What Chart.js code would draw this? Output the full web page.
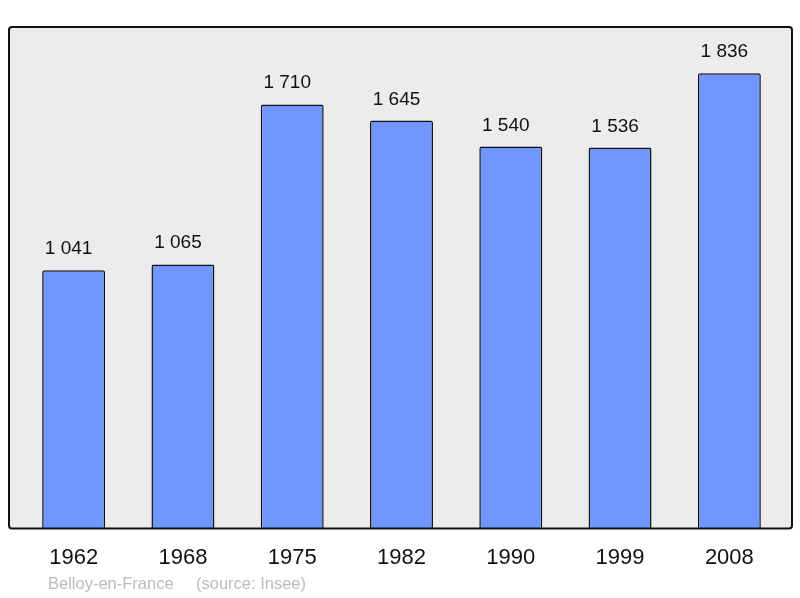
<!DOCTYPE html>
<html>
<head>
<meta charset="utf-8">
<script src="https://cdn.jsdelivr.net/npm/chart.js@4/dist/chart.umd.min.js"></script>
<style>
  html, body { margin: 0; padding: 0; background: #fff; }
  #wrap { width: 800px; height: 598px; }
</style>
</head>
<body>
<div id="wrap"><canvas id="popChart" width="800" height="598"></canvas></div>
<script>
// --- data ---
const years = ['1962', '1968', '1975', '1982', '1990', '1999', '2008'];
const population = [1041, 1065, 1710, 1645, 1540, 1536, 1836];
const townName = 'Belloy-en-France';
const sourceText = '(source: Insee)';

const fmt = (n) => String(n).replace(/\B(?=(\d{3})+(?!\d))/g, ' ');

// gray frame behind the bars, border on top
const framePlugin = {
    id: 'frame',
    beforeDatasetsDraw(chart) {
        const { ctx, chartArea: a } = chart;
        ctx.save();
        ctx.beginPath();
        ctx.roundRect(a.left - 10, a.top, a.right - a.left + 18, a.bottom - a.top, 3);
        ctx.fillStyle = '#ececec';
        ctx.fill();
        ctx.restore();
    },
    afterDatasetsDraw(chart) {
        const { ctx, chartArea: a } = chart;
        ctx.save();
        ctx.beginPath();
        ctx.roundRect(a.left - 10, a.top, a.right - a.left + 18, a.bottom - a.top, 3);
        ctx.lineWidth = 2;
        ctx.strokeStyle = '#111';
        ctx.stroke();

        // value labels above bars (sit a little left of bar centre)
        const meta = chart.getDatasetMeta(0);
        ctx.font = "19px 'Liberation Sans', Arial, sans-serif";
        ctx.fillStyle = '#111';
        ctx.textAlign = 'center';
        ctx.textBaseline = 'alphabetic';
        meta.data.forEach((bar, i) => {
            ctx.fillText(fmt(population[i]), bar.x - 5, bar.y - 16);
        });

        // footer
        ctx.font = "16.5px 'Liberation Sans', Arial, sans-serif";
        ctx.fillStyle = '#bbbbbb';
        ctx.textAlign = 'left';
        ctx.fillText(townName, 48, 589);
        ctx.fillText(sourceText, 196, 589);
        ctx.restore();
    }
};

const ctx = document.getElementById('popChart').getContext('2d');
new Chart(ctx, {
    type: 'bar',
    data: {
        labels: years,
        datasets: [{
            data: population,
            backgroundColor: '#7097ff',
            borderColor: '#111',
            borderWidth: 1.5,
            borderRadius: 2,
            barPercentage: 0.576,
            categoryPercentage: 1
        }]
    },
    options: {
        responsive: false,
        animation: false,
        layout: { padding: { left: 19, right: 16, top: 27, bottom: 11 } },
        plugins: { legend: { display: false }, tooltip: { enabled: false } },
        scales: {
            x: {
                grid: { display: false, drawTicks: false },
                border: { display: false },
                ticks: {
                    color: '#111',
                    padding: 16,
                    font: { family: "'Liberation Sans', Arial, sans-serif", size: 22 }
                }
            },
            y: { display: false, min: 0, max: 2022 }
        }
    },
    plugins: [framePlugin]
});
</script>
</body>
</html>
